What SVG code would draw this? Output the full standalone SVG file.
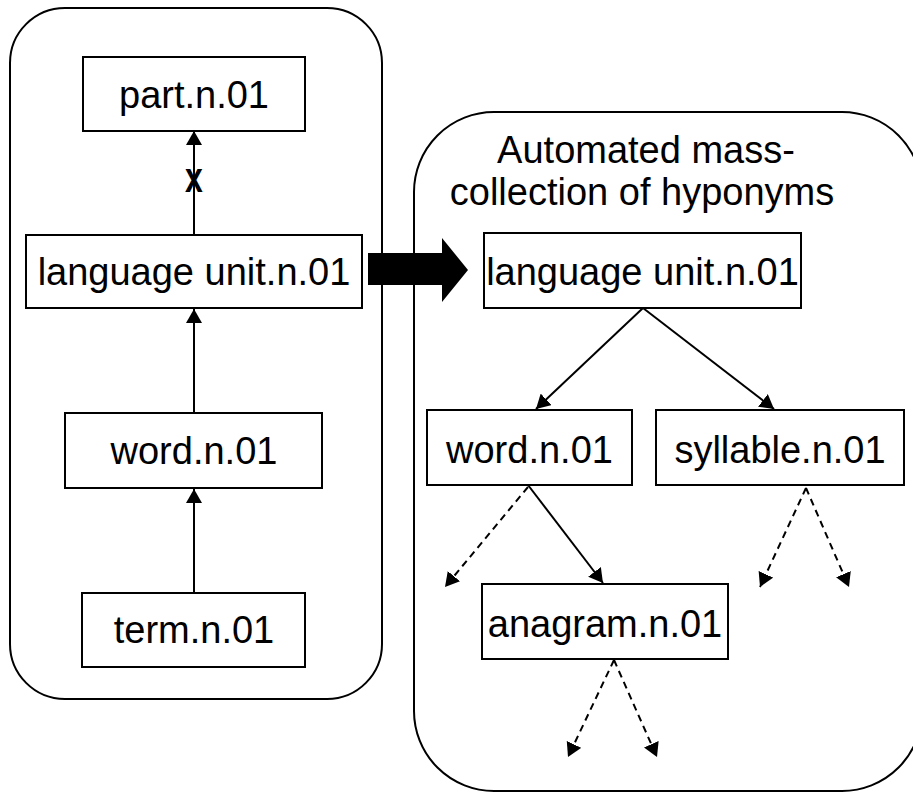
<svg xmlns="http://www.w3.org/2000/svg" width="913" height="792" viewBox="0 0 913 792">
<style>
.container{fill:#fff;stroke:#000;stroke-width:2}
.box{fill:#fff;stroke:#000;stroke-width:2}
.lbl{font-family:"Liberation Sans",Arial,sans-serif;font-size:38px;fill:#000;text-anchor:middle}
.edge{stroke:#000;stroke-width:2;fill:none}
.dash{stroke-dasharray:7 5}
</style>
<defs>
<marker id="ah" viewBox="0 0 14 16" refX="14" refY="8" markerWidth="14" markerHeight="16" markerUnits="userSpaceOnUse" orient="auto">
<path d="M0,0 L14,8 L0,16 z" fill="#000" stroke="none"/>
</marker>
</defs>
<g id="container-left"><rect class="container" x="10" y="8" width="372" height="691" rx="55" ry="55"/></g>
<g id="container-right">
<rect class="container" x="414" y="112" width="508" height="679" rx="80" ry="80"/>
<text class="lbl" x="646" y="163">Automated mass-</text>
<text class="lbl" x="642" y="205">collection of hyponyms</text>
</g>
<g id="transfer-arrow"><polygon points="368,253 442,253 442,238 468,270 442,302 442,285 368,285" fill="#000"/></g>
<g id="connectors">
<line class="edge" x1="194" y1="593" x2="194" y2="489" marker-end="url(#ah)"/>
<line class="edge" x1="194" y1="413" x2="194" y2="309" marker-end="url(#ah)"/>
<line class="edge" x1="194" y1="235" x2="194" y2="131" marker-end="url(#ah)"/>
<text transform="translate(194,192) scale(1,1.3)" x="0" y="0" font-family="Liberation Sans,Arial,sans-serif" font-size="32" font-weight="bold" text-anchor="middle">x</text>
<line class="edge" x1="643" y1="308" x2="536" y2="409" marker-end="url(#ah)"/>
<line class="edge" x1="643" y1="308" x2="774" y2="409" marker-end="url(#ah)"/>
<line class="edge" x1="528" y1="485" x2="603" y2="583" marker-end="url(#ah)"/>
<line class="edge dash" x1="528" y1="487" x2="445" y2="587" marker-end="url(#ah)"/>
<line class="edge dash" x1="806" y1="488" x2="760" y2="587" marker-end="url(#ah)"/>
<line class="edge dash" x1="806" y1="488" x2="849" y2="587" marker-end="url(#ah)"/>
<line class="edge dash" x1="614" y1="660" x2="568" y2="757" marker-end="url(#ah)"/>
<line class="edge dash" x1="614" y1="660" x2="657" y2="757" marker-end="url(#ah)"/>
</g>
<g id="node-part"><rect class="box" x="83" y="57" width="222" height="74"/><text class="lbl" x="194" y="108">part.n.01</text></g>
<g id="node-langunit-left"><rect class="box" x="26" y="235" width="336" height="73"/><text class="lbl" x="194" y="285">language unit.n.01</text></g>
<g id="node-word-left"><rect class="box" x="65" y="413" width="257" height="75"/><text class="lbl" x="194" y="464">word.n.01</text></g>
<g id="node-term"><rect class="box" x="82" y="593" width="223" height="74"/><text class="lbl" x="194" y="643">term.n.01</text></g>
<g id="node-langunit-right"><rect class="box" x="484" y="233" width="317" height="75"/><text class="lbl" x="642.5" y="285">language unit.n.01</text></g>
<g id="node-word-right"><rect class="box" x="427" y="410" width="205" height="75"/><text class="lbl" x="529.5" y="463">word.n.01</text></g>
<g id="node-syllable"><rect class="box" x="656" y="410" width="248" height="75"/><text class="lbl" x="780" y="463">syllable.n.01</text></g>
<g id="node-anagram"><rect class="box" x="482" y="584" width="246" height="75"/><text class="lbl" x="605" y="637">anagram.n.01</text></g>
</svg>
